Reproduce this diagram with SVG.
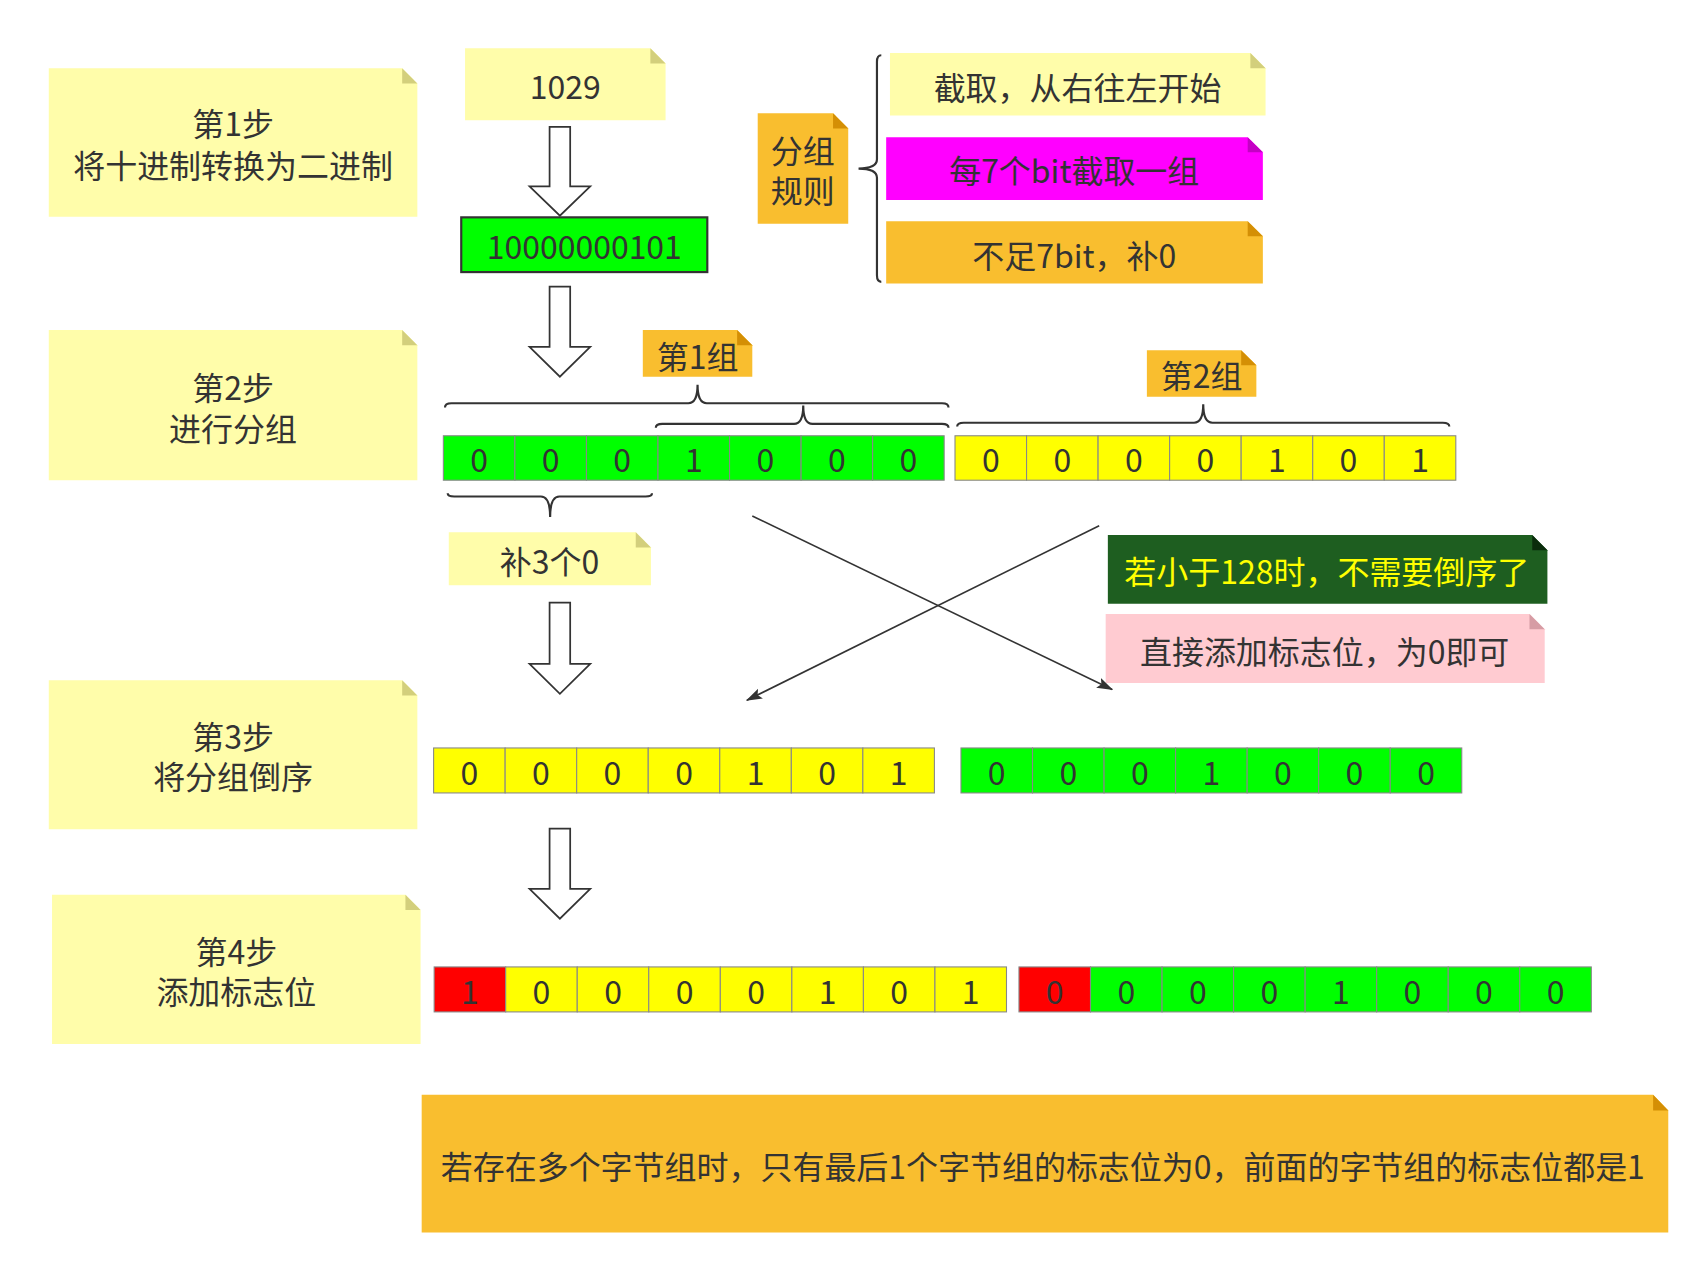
<svg xmlns="http://www.w3.org/2000/svg" width="1699" height="1264" viewBox="0 0 1699 1264">
<style>
text{font-family:"Noto Sans CJK SC","Noto Sans",sans-serif;font-size:29.5px;fill:#333;text-anchor:middle;dominant-baseline:central}
.ly{fill:#fffdaa}.lyf{fill:#d3cf7c}
.or{fill:#f9be2f}.orf{fill:#d48f05}
.mg{fill:#ff00ff}.mgf{fill:#c400c4}
.dg{fill:#1e5e20}.dgf{fill:#0b2c0c}
.pk{fill:#ffcbd1}.pkf{fill:#d69ca4}
.cg{fill:#00ff00;stroke:#888;stroke-width:1}
.cy{fill:#ffff00;stroke:#888;stroke-width:1}
.cr{fill:#ff0000;stroke:#888;stroke-width:1}
.hollow{fill:#fff;stroke:#333;stroke-width:1.6}
.brace{fill:none;stroke:#333;stroke-width:2}
.line{fill:none;stroke:#333;stroke-width:1.5}
</style>
<defs>
<marker id="ah" markerUnits="userSpaceOnUse" markerWidth="16" markerHeight="12" refX="14" refY="5" orient="auto">
<path d="M0,0 L15,5 L0,10 L3,5 Z" fill="#333"/>
</marker>
</defs>
<rect width="1699" height="1264" fill="#fff"/>
<g transform="scale(1.084)">
<g id="step1">
<polygon class="ly" points="45,63 371,63 385,77 385,200 45,200"/>
<polygon class="lyf" points="371,63 385,77 371,77"/>
<text x="215" y="113">第1步</text>
<text x="215" y="151">将十进制转换为二进制</text>
</g>
<g id="step2">
<polygon class="ly" points="45,304.5 371,304.5 385,318.5 385,443 45,443"/>
<polygon class="lyf" points="371,304.5 385,318.5 371,318.5"/>
<text x="215" y="356.5">第2步</text>
<text x="215" y="393.5">进行分组</text>
</g>
<g id="step3">
<polygon class="ly" points="45,627.5 371,627.5 385,641.5 385,765 45,765"/>
<polygon class="lyf" points="371,627.5 385,641.5 371,641.5"/>
<text x="215" y="678">第3步</text>
<text x="215" y="715">将分组倒序</text>
</g>
<g id="step4">
<polygon class="ly" points="48,825.5 374,825.5 388,839.5 388,963 48,963"/>
<polygon class="lyf" points="374,825.5 388,839.5 374,839.5"/>
<text x="218" y="876.5">第4步</text>
<text x="218" y="913.5">添加标志位</text>
</g>
<g id="n1029">
<polygon class="ly" points="429,44.5 600,44.5 614,58.5 614,111 429,111"/>
<polygon class="lyf" points="600,44.5 614,58.5 600,58.5"/>
<text x="521.5" y="78.5">1029</text>
</g>
<g id="binary">
<rect x="425.5" y="200.5" width="227" height="50.5" fill="#00ff00" stroke="#333" stroke-width="2"/>
<text x="539" y="226">10000000101</text>
</g>
<g id="rules">
<polygon class="or" points="699,104.5 768.5,104.5 782.5,118.5 782.5,206.5 699,206.5"/>
<polygon class="orf" points="768.5,104.5 782.5,118.5 768.5,118.5"/>
<text x="740.5" y="137">分组</text>
<text x="740.5" y="174">规则</text>
</g>
<g id="rule1">
<polygon class="ly" points="821,49 1153.5,49 1167.5,63 1167.5,106.5 821,106.5"/>
<polygon class="lyf" points="1153.5,49 1167.5,63 1153.5,63"/>
<text x="994" y="79.5">截取，从右往左开始</text>
</g>
<g id="rule2">
<polygon class="mg" points="817.5,126.5 1151,126.5 1165,140.5 1165,184.5 817.5,184.5"/>
<polygon class="mgf" points="1151,126.5 1165,140.5 1151,140.5"/>
<text x="991" y="156">每7个bit截取一组</text>
</g>
<g id="rule3">
<polygon class="or" points="817.5,204 1151,204 1165,218 1165,261.5 817.5,261.5"/>
<polygon class="orf" points="1151,204 1165,218 1151,218"/>
<text x="991" y="234.5">不足7bit，补0</text>
</g>
<g id="group1">
<polygon class="or" points="593,304.5 680,304.5 694,318.5 694,347.5 593,347.5"/>
<polygon class="orf" points="680,304.5 694,318.5 680,318.5"/>
<text x="643.5" y="327.5">第1组</text>
</g>
<g id="group2">
<polygon class="or" points="1058,323 1145,323 1159,337 1159,366 1058,366"/>
<polygon class="orf" points="1145,323 1159,337 1145,337"/>
<text x="1108.5" y="345">第2组</text>
</g>
<g id="pad">
<polygon class="ly" points="414,491 586.5,491 600.5,505 600.5,540 414,540"/>
<polygon class="lyf" points="586.5,491 600.5,505 586.5,505"/>
<text x="507" y="517">补3个0</text>
</g>
<g id="note128">
<polygon class="dg" points="1022,493.5 1413.5,493.5 1427.5,507.5 1427.5,557 1022,557"/>
<polygon class="dgf" points="1413.5,493.5 1427.5,507.5 1413.5,507.5"/>
<text x="1224" y="526" style="fill:#ffff00">若小于128时，不需要倒序了</text>
</g>
<g id="noteflag">
<polygon class="pk" points="1020,566.5 1411,566.5 1425,580.5 1425,630 1020,630"/>
<polygon class="pkf" points="1411,566.5 1425,580.5 1411,580.5"/>
<text x="1222" y="600">直接添加标志位，为0即可</text>
</g>
<g id="row1a">
<rect class="cg" x="409" y="402" width="66" height="41"/><rect class="cg" x="475" y="402" width="66" height="41"/><rect class="cg" x="541" y="402" width="66" height="41"/><rect class="cg" x="607" y="402" width="66" height="41"/><rect class="cg" x="673" y="402" width="66" height="41"/><rect class="cg" x="739" y="402" width="66" height="41"/><rect class="cg" x="805" y="402" width="66" height="41"/>
<text x="442" y="422.5">0</text><text x="508" y="422.5">0</text><text x="574" y="422.5">0</text><text x="640" y="422.5">1</text><text x="706" y="422.5">0</text><text x="772" y="422.5">0</text><text x="838" y="422.5">0</text>
</g>
<g id="row1b">
<rect class="cy" x="881" y="402" width="66" height="41"/><rect class="cy" x="947" y="402" width="66" height="41"/><rect class="cy" x="1013" y="402" width="66" height="41"/><rect class="cy" x="1079" y="402" width="66" height="41"/><rect class="cy" x="1145" y="402" width="66" height="41"/><rect class="cy" x="1211" y="402" width="66" height="41"/><rect class="cy" x="1277" y="402" width="66" height="41"/>
<text x="914" y="422.5">0</text><text x="980" y="422.5">0</text><text x="1046" y="422.5">0</text><text x="1112" y="422.5">0</text><text x="1178" y="422.5">1</text><text x="1244" y="422.5">0</text><text x="1310" y="422.5">1</text>
</g>
<g id="row3a">
<rect class="cy" x="400" y="690" width="66" height="41.5"/><rect class="cy" x="466" y="690" width="66" height="41.5"/><rect class="cy" x="532" y="690" width="66" height="41.5"/><rect class="cy" x="598" y="690" width="66" height="41.5"/><rect class="cy" x="664" y="690" width="66" height="41.5"/><rect class="cy" x="730" y="690" width="66" height="41.5"/><rect class="cy" x="796" y="690" width="66" height="41.5"/>
<text x="433" y="711">0</text><text x="499" y="711">0</text><text x="565" y="711">0</text><text x="631" y="711">0</text><text x="697" y="711">1</text><text x="763" y="711">0</text><text x="829" y="711">1</text>
</g>
<g id="row3b">
<rect class="cg" x="886.5" y="690" width="66" height="41.5"/><rect class="cg" x="952.5" y="690" width="66" height="41.5"/><rect class="cg" x="1018.5" y="690" width="66" height="41.5"/><rect class="cg" x="1084.5" y="690" width="66" height="41.5"/><rect class="cg" x="1150.5" y="690" width="66" height="41.5"/><rect class="cg" x="1216.5" y="690" width="66" height="41.5"/><rect class="cg" x="1282.5" y="690" width="66" height="41.5"/>
<text x="919.5" y="711">0</text><text x="985.5" y="711">0</text><text x="1051.5" y="711">0</text><text x="1117.5" y="711">1</text><text x="1183.5" y="711">0</text><text x="1249.5" y="711">0</text><text x="1315.5" y="711">0</text>
</g>
<g id="row4a">
<rect class="cr" x="400.5" y="892" width="66" height="41.5"/><rect class="cy" x="466.5" y="892" width="66" height="41.5"/><rect class="cy" x="532.5" y="892" width="66" height="41.5"/><rect class="cy" x="598.5" y="892" width="66" height="41.5"/><rect class="cy" x="664.5" y="892" width="66" height="41.5"/><rect class="cy" x="730.5" y="892" width="66" height="41.5"/><rect class="cy" x="796.5" y="892" width="66" height="41.5"/><rect class="cy" x="862.5" y="892" width="66" height="41.5"/>
<text x="433.5" y="913">1</text><text x="499.5" y="913">0</text><text x="565.5" y="913">0</text><text x="631.5" y="913">0</text><text x="697.5" y="913">0</text><text x="763.5" y="913">1</text><text x="829.5" y="913">0</text><text x="895.5" y="913">1</text>
</g>
<g id="row4b">
<rect class="cr" x="940" y="892" width="66" height="41.5"/><rect class="cg" x="1006" y="892" width="66" height="41.5"/><rect class="cg" x="1072" y="892" width="66" height="41.5"/><rect class="cg" x="1138" y="892" width="66" height="41.5"/><rect class="cg" x="1204" y="892" width="66" height="41.5"/><rect class="cg" x="1270" y="892" width="66" height="41.5"/><rect class="cg" x="1336" y="892" width="66" height="41.5"/><rect class="cg" x="1402" y="892" width="66" height="41.5"/>
<text x="973" y="913">0</text><text x="1039" y="913">0</text><text x="1105" y="913">0</text><text x="1171" y="913">0</text><text x="1237" y="913">1</text><text x="1303" y="913">0</text><text x="1369" y="913">0</text><text x="1435" y="913">0</text>
</g>
<g id="summary">
<polygon class="or" points="389,1010 1525,1010 1539,1024.5 1539,1137 389,1137"/>
<polygon class="orf" points="1525,1010 1539,1024.5 1525,1024.5"/>
<text x="962" y="1074.5">若存在多个字节组时，只有最后1个字节组的标志位为0，前面的字节组的标志位都是1</text>
</g>
<g id="connectors">
<polygon class="hollow" points="507,117 526,117 526,172 544.5,172 516.5,199 488.5,172 507,172"/>
<polygon class="hollow" points="507,264.5 526,264.5 526,320 544.5,320 516.5,347.5 488.5,320 507,320"/>
<polygon class="hollow" points="507,556 526,556 526,612.5 544.5,612.5 516.5,640 488.5,612.5 507,612.5"/>
<polygon class="hollow" points="507,764.5 526,764.5 526,820 544.5,820 516.5,847.5 488.5,820 507,820"/>
<path class="brace" d="M813,51 Q809,51 809,57 L809,147 Q809,155.5 792,155.5 Q809,155.5 809,164 L809,254 Q809,260 813,260"/>
<path class="brace" d="M410.5,376 Q410.5,372 416.5,372 L635,372 Q643.5,372 643.5,355 Q643.5,372 652,372 L869,372 Q875,372 875,376"/>
<path class="brace" d="M605,394.5 Q605,391 611,391 L732.5,391 Q741,391 741,374 Q741,391 749.5,391 L869,391 Q875,391 875,394.5"/>
<path class="brace" d="M883,393.5 Q883,390 889,390 L1101.5,390 Q1110,390 1110,373 Q1110,390 1118.5,390 L1331,390 Q1337,390 1337,393.5"/>
<path class="brace" d="M413,455 Q413,458 419,458 L499,458 Q507.5,458 507.5,477 Q507.5,458 516,458 L595.5,458 Q601.5,458 601.5,455"/>
<line class="line" x1="694" y1="476" x2="1026" y2="636" marker-end="url(#ah)"/>
<line class="line" x1="1014" y1="485" x2="689" y2="646" marker-end="url(#ah)"/>
</g>
</g>
</svg>
